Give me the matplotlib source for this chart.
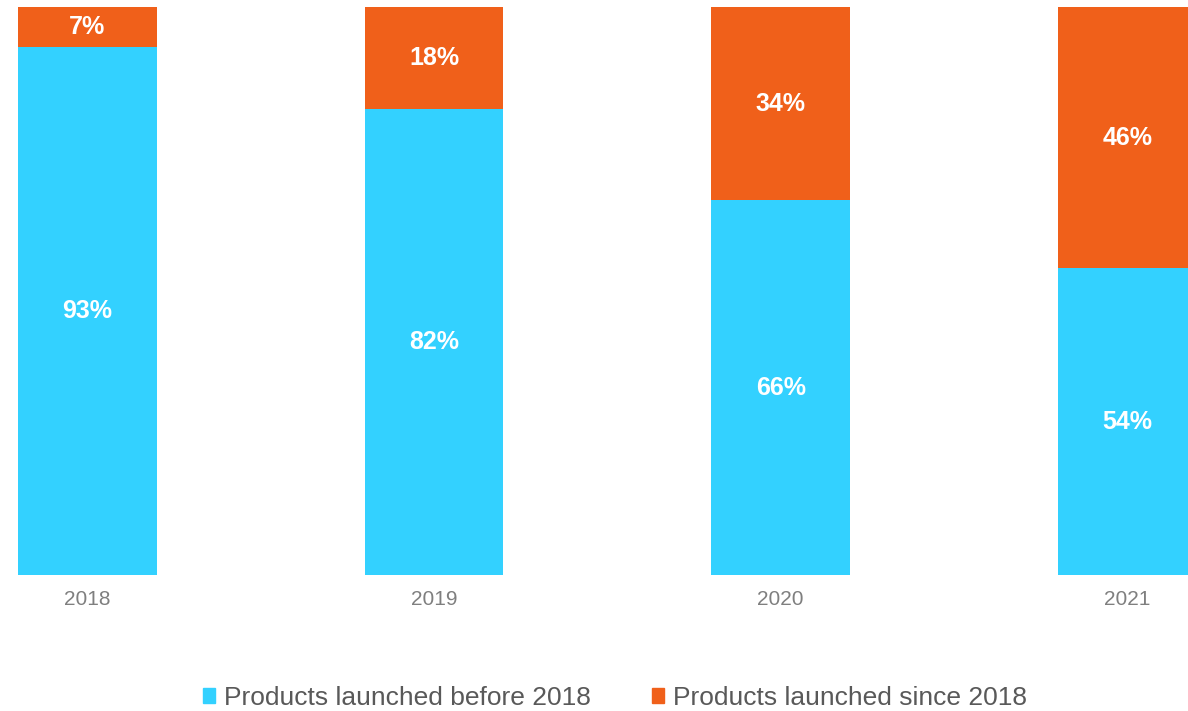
import matplotlib.pyplot as plt
from matplotlib.patches import Patch

years = ["2018", "2019", "2020", "2021"]
before_2018 = [93, 82, 66, 54]
since_2018 = [7, 18, 34, 46]
series_labels = ["Products launched before 2018", "Products launched since 2018"]

CYAN = "#33D1FF"
ORANGE = "#F0601A"

plt.rcParams["font.family"] = ["Liberation Sans", "DejaVu Sans"]

fig = plt.figure(figsize=(11.88, 7.11), dpi=100)
ax = fig.add_axes([0.0, 0.1913, 1.0, 0.7989])

x = list(range(len(years)))
width = 0.4
ax.bar(x, before_2018, width, color=CYAN)
ax.bar(x, since_2018, width, bottom=before_2018, color=ORANGE)

for xi, b, s in zip(x, before_2018, since_2018):
    ax.text(xi, b / 2, f"{b}%", ha="center", va="center",
            color="white", fontsize=18, fontweight="bold")
    ax.text(xi, b + s / 2, f"{s}%", ha="center", va="center",
            color="white", fontsize=18, fontweight="bold")

ax.set_xlim(-0.252, 3.175)
ax.set_ylim(0, 100)
ax.set_xticks(x)
ax.set_xticklabels(years, fontsize=15, color="#7F7F7F")
ax.tick_params(axis="x", length=0, pad=11)
ax.set_yticks([])
for spine in ax.spines.values():
    spine.set_visible(False)

handles = [Patch(color=CYAN), Patch(color=ORANGE)]
fig.legend(handles, series_labels, loc="center", bbox_to_anchor=(0.5177, 0.0183),
           ncol=2, frameon=False, fontsize=19, labelcolor="#595959",
           handlelength=0.45, handleheight=0.45, handletextpad=0.34,
           columnspacing=2.3, borderpad=0, borderaxespad=0)

fig.savefig("out.png", dpi=100)
